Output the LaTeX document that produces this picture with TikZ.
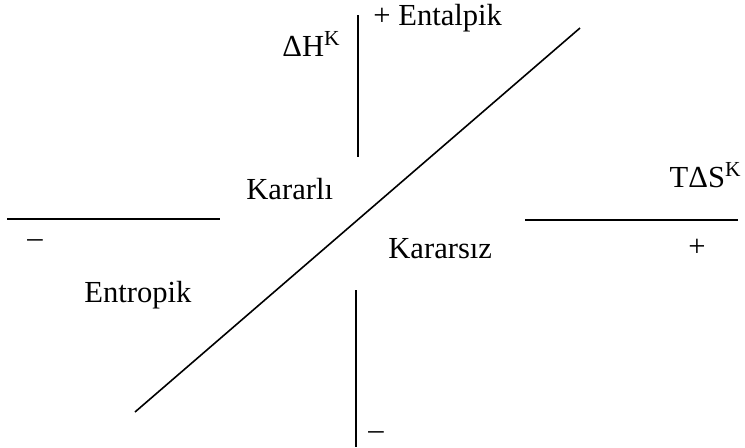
\documentclass[tikz,border=0pt]{standalone}
\usepackage{fontspec}
\setmainfont{Liberation Serif}
\usepackage{tikz}
\tikzset{
  axisline/.style={draw=black,line width=0.8pt},
  lbl/.style={font=\fontsize{15.3}{18}\selectfont,inner sep=0pt},
}

\begin{document}
\begin{tikzpicture}[x=0.5pt,y=-0.5pt]
  \useasboundingbox (0,0) rectangle (745,447);
  % axes
  \draw[axisline] (358,15) -- (358,157);
  \draw[axisline] (356,290) -- (356,447);
  \draw[axisline] (7,219) -- (220,219);
  \draw[axisline] (525,220) -- (738,220);
  \draw[axisline] (135,412) -- (580,28);
  % labels
  \node[lbl,anchor=base west] (dh) at (282,56) {ΔH\textsuperscript{K}};
  \node[lbl,anchor=base west] (ent) at (373,25) {+ Entalpik};
  \node[lbl,anchor=base east] (ts) at (742,187) {TΔS\textsuperscript{K}};
  \node[lbl,anchor=base west] (kl) at (246,199) {Kararlı};
  \node[lbl,anchor=base west] (ks) at (388,258) {Kararsız};
  \node[lbl,anchor=base west] (en) at (84,302) {Entropik};
  \node[lbl] (pr) at (697,248) {+};
  \node[lbl] (ml) at (35,244) {–};
  \node[lbl] (mb) at (376,436) {–};
\end{tikzpicture}
\end{document}
